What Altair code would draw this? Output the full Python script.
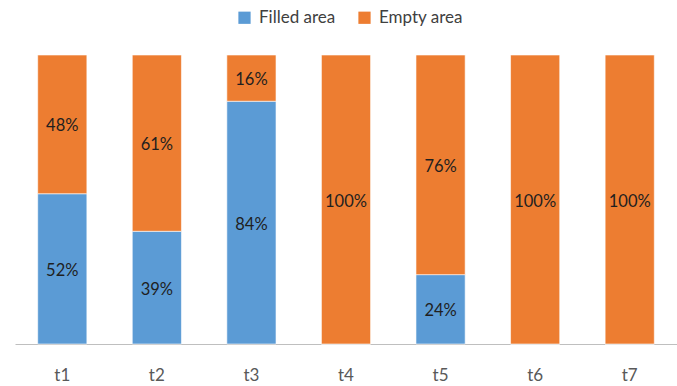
import altair as alt
import pandas as pd

periods = ["t1", "t2", "t3", "t4", "t5", "t6", "t7"]
filled = [52, 39, 84, 0, 24, 0, 0]
empty = [48, 61, 16, 100, 76, 100, 100]
series = ["Filled area", "Empty area"]
colors = ["#5B9BD5", "#ED7D31"]

rows = []
for i, p in enumerate(periods):
    rows.append({"t": p, "series": series[0], "order": 0, "value": filled[i]})
    rows.append({"t": p, "series": series[1], "order": 1, "value": empty[i]})
df = pd.DataFrame(rows)

FONT = "Lato"

base = alt.Chart(df).transform_stack(
    stack="value",
    groupby=["t"],
    as_=["y0", "y1"],
    sort=[alt.SortField("order", order="ascending")],
).transform_calculate(
    mid="(datum.y0 + datum.y1) / 2",
    label="datum.value + '%'",
)

x_axis = alt.Axis(
    labelAngle=0,
    labelFont=FONT,
    labelFontSize=17,
    labelColor="#595959",
    labelPadding=23,
    ticks=False,
    domainColor="#BFBFBF",
    domainWidth=1.2,
    grid=False,
)

x_enc = alt.X(
    "t:N",
    sort=periods,
    title=None,
    scale=alt.Scale(paddingInner=0.48, paddingOuter=0.24),
    axis=x_axis,
)

bars = base.mark_bar(stroke="white", strokeWidth=0.6).encode(
    x=x_enc,
    y=alt.Y("y0:Q", scale=alt.Scale(domain=[0, 100]), axis=None),
    y2="y1:Q",
    color=alt.Color(
        "series:N",
        scale=alt.Scale(domain=series, range=colors),
        sort=series,
        legend=alt.Legend(
            title=None,
            orient="none",
            direction="horizontal",
            legendX=221,
            legendY=-46,
            symbolType="square",
            symbolSize=150,
            symbolStrokeWidth=0,
            labelFont=FONT,
            labelFontSize=17,
            labelColor="#404040",
            columnPadding=20,
            labelOffset=6,
        ),
    ),
)

labels = base.transform_filter("datum.value > 0").mark_text(
    font=FONT, fontSize=16.5, color="#1f1f1f", baseline="middle", dy=2
).encode(
    x=x_enc,
    y=alt.Y("mid:Q", axis=None),
    text="label:N",
)

chart = (
    alt.layer(bars, labels)
    .properties(
        width=662,
        height=289,
        padding={"left": 15, "top": 55, "right": 0, "bottom": 42},
        autosize=alt.AutoSizeParams(type="none"),
        background="white",
    )
    .configure_view(strokeWidth=0, stroke=None)
)

chart.save("out.html", embed_options={"renderer": "svg", "actions": False})
